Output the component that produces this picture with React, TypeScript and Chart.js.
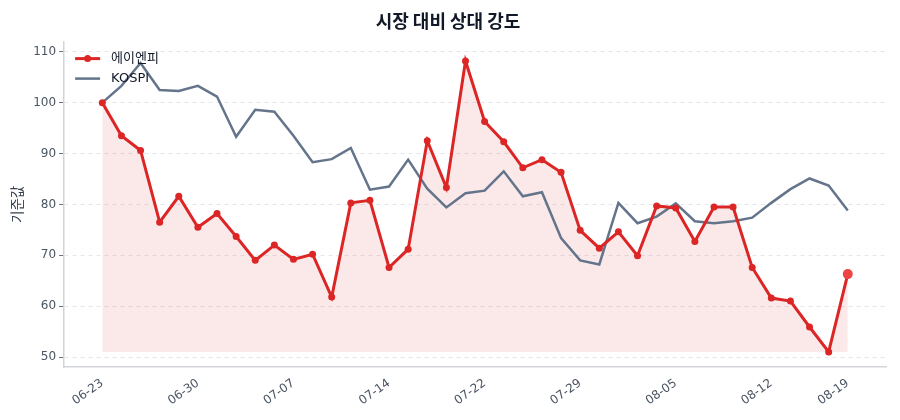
import { useEffect, useRef } from "react";
import { Chart, registerables } from "chart.js";

Chart.register(...registerables);

const dates = [
  "06-23", "06-24", "06-25", "06-26", "06-27",
  "06-30", "07-01", "07-02", "07-03", "07-04",
  "07-07", "07-08", "07-09", "07-10", "07-11",
  "07-14", "07-15", "07-16", "07-18", "07-21",
  "07-22", "07-23", "07-24", "07-25", "07-28",
  "07-29", "07-30", "07-31", "08-01", "08-04",
  "08-05", "08-06", "08-07", "08-08", "08-11",
  "08-12", "08-13", "08-14", "08-18", "08-19",
];

const stock = [
  100, 93.5, 90.6, 76.5, 81.6, 75.5, 78.2, 73.7, 69.0, 72.0,
  69.2, 70.2, 61.8, 80.3, 80.8, 67.6, 71.2, 92.5, 83.3, 108.2,
  96.3, 92.3, 87.2, 88.8, 86.3, 74.9, 71.4, 74.6, 69.9, 79.7,
  79.3, 72.7, 79.5, 79.5, 67.6, 61.6, 61.0, 55.9, 51.0, 66.3,
];

const kospi = [
  100, 103.3, 107.8, 102.5, 102.3, 103.3, 101.2, 93.3, 98.6, 98.2,
  93.5, 88.3, 88.9, 91.1, 82.9, 83.5, 88.8, 83.1, 79.4, 82.2,
  82.7, 86.5, 81.6, 82.4, 73.4, 69.0, 68.2, 80.3, 76.3, 77.6,
  80.2, 76.7, 76.3, 76.7, 77.4, 80.3, 83.0, 85.1, 83.7, 78.8,
];

const tickIndexes = [0, 5, 10, 15, 20, 25, 30, 35, 39];
const yTicks = [50, 60, 70, 80, 90, 100, 110];

const RED = "#dc2626";
const GRAY = "#64748b";
const FONT = "'DejaVu Sans', 'Noto Sans CJK KR', sans-serif";

const legendPlugin = {
  id: "innerLegend",
  afterDraw(chart: any) {
    const { ctx, chartArea } = chart;
    const x = chartArea.left + 11;
    let y = chartArea.top + 17;
    ctx.save();
    ctx.font = `13px ${FONT}`;
    ctx.textBaseline = "middle";
    const items = [
      { label: "에이엔피", color: RED, dot: true, width: 3 },
      { label: "KOSPI", color: GRAY, dot: false, width: 2.5 },
    ];
    for (const it of items) {
      ctx.strokeStyle = it.color;
      ctx.lineWidth = it.width;
      ctx.beginPath();
      ctx.moveTo(x, y);
      ctx.lineTo(x + 25, y);
      ctx.stroke();
      if (it.dot) {
        ctx.fillStyle = it.color;
        ctx.beginPath();
        ctx.arc(x + 12.5, y, 3.5, 0, Math.PI * 2);
        ctx.fill();
      }
      ctx.fillStyle = "#111827";
      ctx.fillText(it.label, x + 36, y);
      y += 20;
    }
    ctx.restore();
  },
};

export default function App() {
  const canvasRef = useRef<HTMLCanvasElement | null>(null);

  useEffect(() => {
    document.body.style.margin = "0";
    if (!canvasRef.current) return;
    const ctx = canvasRef.current.getContext("2d");
    if (!ctx) return;
    const last = stock.length - 1;
    const minStock = Math.min(...stock);
    const chart = new Chart(ctx, {
      type: "line",
      data: {
        datasets: [
          {
            label: "에이엔피",
            data: stock.map((v, i) => ({ x: i, y: v })),
            borderColor: RED,
            borderWidth: 3,
            backgroundColor: "rgba(220, 38, 38, 0.1)",
            fill: { value: minStock },
            pointRadius: stock.map((_, i) => (i === last ? 5 : 3.5)),
            pointBackgroundColor: stock.map((_, i) => (i === last ? "#ef4444" : RED)),
            pointBorderColor: stock.map((_, i) => (i === last ? "#ef4444" : RED)),
            pointBorderWidth: 0,
            tension: 0,
          },
          {
            label: "KOSPI",
            data: kospi.map((v, i) => ({ x: i, y: v })),
            borderColor: GRAY,
            borderWidth: 2.5,
            pointRadius: 0,
            fill: false,
            tension: 0,
          },
        ],
      },
      options: {
        responsive: false,
        animation: false,
        layout: { padding: { left: 10, right: 14, top: 0, bottom: 9 } },
        plugins: {
          legend: { display: false },
          tooltip: { enabled: false },
          filler: { drawTime: "beforeDatasetsDraw" },
          title: {
            display: true,
            text: "시장 대비 상대 강도",
            color: "#111827",
            font: { size: 18, weight: "bold", family: "'Noto Sans CJK KR', sans-serif" },
            padding: { top: 10, bottom: 10 },
          },
        },
        scales: {
          x: {
            type: "linear",
            min: -2,
            max: 41,
            afterBuildTicks: (scale: any) => {
              scale.ticks = tickIndexes.map((v) => ({ value: v }));
            },
            ticks: {
              autoSkip: false,
              minRotation: 35,
              maxRotation: 35,
              color: "#4b5563",
              font: { size: 12, family: FONT },
            },
            grid: { display: false, drawTicks: true, tickLength: 6, tickColor: "#6b7280" },
            border: { display: true, color: "#d1d5db", width: 1.5 },
          },
          y: {
            min: 48,
            max: 112,
            afterBuildTicks: (scale: any) => {
              scale.ticks = yTicks.map((v) => ({ value: v }));
            },
            ticks: {
              color: "#4b5563",
              font: { size: 12, family: FONT },
              padding: 3,
            },
            grid: {
              color: "#e5e7eb",
              tickColor: "#6b7280",
              tickLength: 5,
              drawOnChartArea: true,
            },
            border: { display: true, color: "#d1d5db", width: 1.5, dash: [4, 4] },
            title: {
              display: true,
              text: "기준값",
              color: "#374151",
              font: { size: 13.5, family: FONT },
              padding: { top: 0, bottom: 4 },
            },
          },
        },
      },
      plugins: [legendPlugin],
    } as any);
    (chart.options.scales as any).x.ticks.callback = (v: any) => dates[v] ?? "";
    chart.update();
    return () => chart.destroy();
  }, []);

  return (
    <div style={{ width: 900, height: 420, background: "#fff" }}>
      <canvas ref={canvasRef} width={900} height={420} />
    </div>
  );
}
